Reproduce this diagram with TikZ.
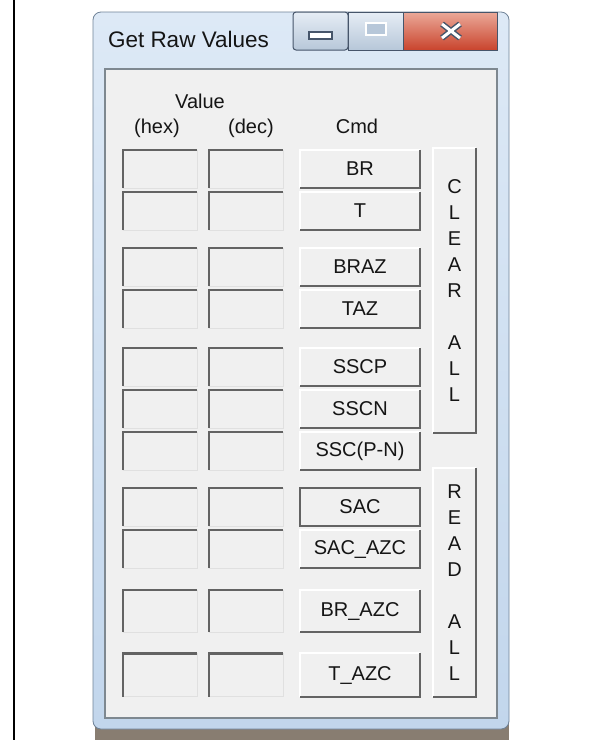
\documentclass[tikz,border=0pt]{standalone}
\usepackage{fontspec}
\setmainfont{Liberation Sans}
\usetikzlibrary{positioning}

\definecolor{dlgbg}{HTML}{F0F0F0}
\definecolor{dlgdark}{HTML}{636363}
\definecolor{dlglight}{HTML}{E0E0E0}
\definecolor{dlgtext}{HTML}{151515}
\definecolor{frametop}{HTML}{DDE9F6}
\definecolor{framebot}{HTML}{C2D6EC}
\definecolor{frameline}{HTML}{6F8297}
\definecolor{panelline}{HTML}{7E8890}
\definecolor{captop}{HTML}{E6EDF5}
\definecolor{capbot}{HTML}{B7C7D9}
\definecolor{capline}{HTML}{46556A}
\definecolor{redtop}{HTML}{EBA999}
\definecolor{redbot}{HTML}{C9442D}

\begin{document}
\begin{tikzpicture}[
  x=1pt, y=-1pt,
  every node/.style={font=\fontsize{20}{24}\selectfont, text=dlgtext, inner sep=0pt, outer sep=0pt},
  field/.style={rectangle, fill=dlgbg, draw=dlglight, line width=0.8pt,
                minimum width=74pt, minimum height=38pt},
  btn/.style={rectangle, fill=dlgbg, draw=dlglight, line width=0.8pt,
              minimum width=120pt, minimum height=38pt},
  sunk/.style={dlgdark, line width=2.8pt},
  raised/.style={dlgdark, line width=2.8pt},
  lit/.style={white, line width=1.6pt},
  defline/.style={dlgdark, line width=1.8pt}, % domyslny przycisk
  capbtn/.style={rectangle, draw=capline, line width=1pt, minimum width=55pt,
                 minimum height=38pt, top color=captop, bottom color=capbot}
]
\useasboundingbox (0,0) rectangle (589,740);

% ====== TLO: ramka komorki i okno ======
\draw[black, line width=2.5pt] (14,0) -- (14,740);
\fill[black!70!brown!60] (95,722) rectangle (509,740);
\draw[frameline, line width=0.8pt, top color=frametop, bottom color=framebot,
      rounded corners=8pt] (93,12) rectangle (509,729);
\node[anchor=base west, font=\fontsize{22.5}{26}\selectfont] (title) at (108,47) {Get Raw Values};

% ====== PRZYCISKI TYTULU ======
\node[capbtn, rounded corners=3pt] (minbtn) at (320.5,31) {};
\node[capbtn, right=0pt of minbtn] (maxbtn) {};
\node[capbtn, minimum width=94pt, top color=redtop, bottom color=redbot,
      right=0pt of maxbtn] (closebtn) {};
\draw[fill=white, draw=capline, line width=1.5pt] (309,32) rectangle (332,39);
\draw[fill=capbot, draw=white, line width=2pt] (366,23) rectangle (386,35);
\draw[capline, line width=6pt] (442,24) -- (460,38) (442,38) -- (460,24);
\draw[white, line width=3pt] (442,24) -- (460,38) (442,38) -- (460,24);

% ====== PANEL ======
\draw[panelline, line width=1.5pt, fill=dlgbg] (105,69) rectangle (497,718);

\node[anchor=base] (value) at (200,108) {Value};
\node[anchor=base] (hex) at (157,133) {(hex)};
\node[anchor=base] (dec) at (251,133) {(dec)};
\node[anchor=base] (cmd) at (357,133) {Cmd};

% ====== KOLUMNA CMD ======
\node[btn] (br) at (360,169) {BR};
\node[btn, below=4pt of br] (t) {T};
\node[btn, below=18pt of t] (braz) {BRAZ};
\node[btn, below=4pt of braz] (taz) {TAZ};
\node[btn, below=20pt of taz] (sscp) {SSCP};
\node[btn, below=4pt of sscp] (sscn) {SSCN};
\node[btn, below=4pt of sscn] (sscpn) {SSC(P-N)};
\node[btn, below=18pt of sscpn] (sac) {SAC};
\node[btn, below=4pt of sac] (sacazc) {SAC\_AZC};
\node[btn, minimum height=42pt, below=22pt of sacazc] (brazc) {BR\_AZC};
\node[btn, minimum height=44pt, below=21pt of brazc] (tazc) {T\_AZC};

% ====== POLA (hex) / (dec) ======
\node[field, left=17pt of br] (decbr) {};         \node[field, left=12pt of decbr] (hexbr) {};
\node[field, left=17pt of t] (dect) {};           \node[field, left=12pt of dect] (hext) {};
\node[field, left=17pt of braz] (decbraz) {};     \node[field, left=12pt of decbraz] (hexbraz) {};
\node[field, left=17pt of taz] (dectaz) {};       \node[field, left=12pt of dectaz] (hextaz) {};
\node[field, left=17pt of sscp] (decsscp) {};     \node[field, left=12pt of decsscp] (hexsscp) {};
\node[field, left=17pt of sscn] (decsscn) {};     \node[field, left=12pt of decsscn] (hexsscn) {};
\node[field, left=17pt of sscpn] (decsscpn) {};   \node[field, left=12pt of decsscpn] (hexsscpn) {};
\node[field, left=17pt of sac] (decsac) {};       \node[field, left=12pt of decsac] (hexsac) {};
\node[field, left=17pt of sacazc] (decsacazc) {}; \node[field, left=12pt of decsacazc] (hexsacazc) {};
\node[field, minimum height=42pt, left=17pt of brazc] (decbrazc) {};
\node[field, minimum height=42pt, left=12pt of decbrazc] (hexbrazc) {};
\node[field, minimum height=43pt, left=17pt of tazc] (dectazc) {};
\node[field, minimum height=43pt, left=12pt of dectazc] (hextazc) {};

% ====== DUZE PRZYCISKI ======
\node[btn, minimum width=43pt, minimum height=285pt, align=center,
      font=\fontsize{20}{26}\selectfont] (clearall) at (454.5,290.5)
      {C\\L\\E\\A\\R\\[26pt]A\\L\\L};
\node[btn, minimum width=43pt, minimum height=229pt, align=center,
      font=\fontsize{20}{26}\selectfont] (readall) at (454.5,582.5)
      {R\\E\\A\\D\\[26pt]A\\L\\L};

% ====== KRAWEDZIE 3D ======
\foreach \f in {br, t, braz, taz, sscp, sscn, sscpn, sac, sacazc, brazc, tazc} {
  \draw[sunk] (hex\f.south west) |- (hex\f.north east);
  \draw[sunk] (dec\f.south west) |- (dec\f.north east);
  \draw[lit] (\f.south west) |- (\f.north east);
  \draw[raised] (\f.south west) -| (\f.north east);
}
\foreach \f in {clearall, readall} {
  \draw[lit] (\f.south west) |- (\f.north east);
  \draw[raised] (\f.south west) -| (\f.north east);
}
\draw[defline] (sac.south west) rectangle (sac.north east);

\end{tikzpicture}
\end{document}
